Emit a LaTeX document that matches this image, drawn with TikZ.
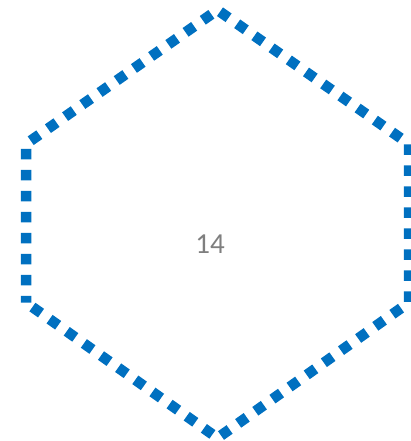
\documentclass[tikz,border=0pt]{standalone}
\usepackage{fontspec}
\setmainfont{Carlito}
\definecolor{hexblue}{HTML}{0070C0}
\definecolor{txtgray}{HTML}{7F7F7F}
\begin{document}
\begin{tikzpicture}[x=1pt,y=-1pt,
  hexline/.style={draw=hexblue,line width=10.5pt,dash pattern=on 10.5pt off 10.5pt,dash phase=3.75pt,line join=miter},
  label/.style={text=txtgray,font=\fontsize{29}{32}\selectfont,inner sep=0pt}]
\useasboundingbox (0,0) rectangle (410,441);
\coordinate (t) at (217.5,10);
\coordinate (ur) at (409,144);
\coordinate (lr) at (409,302.5);
\coordinate (b) at (217.5,438);
\coordinate (ll) at (26,302.5);
\coordinate (ul) at (26,144);
\draw[hexline] (ll) -- (ul) -- (t) -- (ur) -- (lr) -- (b) -- cycle;
\node[label] (n) at (210,244) {14};
\end{tikzpicture}
\end{document}
